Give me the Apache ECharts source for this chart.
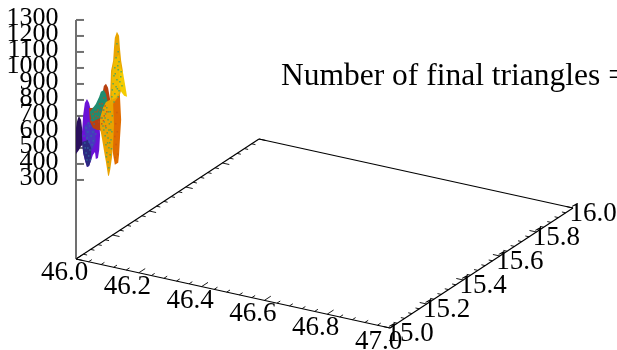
<!DOCTYPE html>
<html><head><meta charset="utf-8">
<script src="https://cdn.jsdelivr.net/npm/echarts@6/dist/echarts.min.js"></script>
<style>html,body{margin:0;padding:0;background:#fff}#c{width:617px;height:350px}</style>
</head><body><div id="c"></div>
<script>
const titleText = 'Number of final triangles =';
const lonTicks = ['46.0','46.2','46.4','46.6','46.8','47.0'];
const latTicks = ['15.0','15.2','15.4','15.6','15.8','16.0'];
const elevTicks = [300,400,500,600,700,800,900,1000,1100,1200,1300];

// patches: [longitude, elevation] outlines along the sampled transect
const navyPatch = [[46.000,625],[46.002,662],[46.005,687],[46.007,700],[46.012,675],[46.014,631],[46.017,581],[46.016,519],[46.012,512],[46.007,487],[46.000,462],[46.000,581]];
const purplePatch = [[46.017,706],[46.021,781],[46.026,806],[46.031,781],[46.036,725],[46.040,725],[46.045,750],[46.050,725],[46.055,662],[46.057,581],[46.055,487],[46.052,437],[46.047,431],[46.045,475],[46.040,456],[46.036,425],[46.031,387],[46.026,381],[46.021,425],[46.017,469],[46.014,581]];
const bluePatch = [[46.019,637],[46.033,662],[46.045,612],[46.047,537],[46.038,487],[46.026,525]];
const deepPatch = [[46.014,537],[46.028,550],[46.036,500],[46.036,425],[46.031,387],[46.026,381],[46.021,425],[46.017,469]];
const redPatch = [[46.031,750],[46.038,750],[46.047,756],[46.055,775],[46.062,831],[46.066,887],[46.071,900],[46.076,875],[46.081,800],[46.083,706],[46.081,612],[46.076,550],[46.069,537],[46.064,581],[46.057,612],[46.050,612],[46.040,625],[46.033,662]];
const greenPatch = [[46.033,725],[46.040,750],[46.047,775],[46.055,819],[46.059,850],[46.066,862],[46.071,837],[46.076,775],[46.076,687],[46.071,625],[46.064,644],[46.057,687],[46.047,675],[46.038,662]];
const orangePatch = [[46.085,800],[46.092,875],[46.097,900],[46.104,831],[46.107,675],[46.104,550],[46.102,456],[46.100,406],[46.092,394],[46.088,456],[46.083,581]];
const goldLowPatch = [[46.057,687],[46.064,750],[46.071,787],[46.081,800],[46.088,775],[46.090,644],[46.088,519],[46.085,437],[46.081,362],[46.078,325],[46.076,325],[46.071,412],[46.066,487],[46.062,550],[46.057,625]];
const goldTopPatch = [[46.097,1225],[46.102,1200],[46.104,1125],[46.107,1044],[46.111,981],[46.111,894],[46.104,831],[46.095,800],[46.088,775],[46.081,750],[46.081,831],[46.083,981],[46.088,1044],[46.090,1125],[46.092,1187]];
const midYellowPatch = [[46.090,1050],[46.102,1081],[46.109,975],[46.109,875],[46.095,812],[46.085,800],[46.085,956]];
const edgeYellowPatch = [[46.104,1000],[46.111,975],[46.116,900],[46.121,819],[46.114,825],[46.107,850],[46.102,894]];

// speckles of the mesh: [longitude, elevation]
const greenSpeckle = [[46.097,1150],[46.100,1100],[46.095,1062],[46.102,1037],[46.092,1000],[46.100,987],[46.107,975],[46.090,950],[46.097,925],[46.104,912],[46.088,900],[46.095,881],[46.109,887],[46.102,856],[46.092,837],[46.085,819],[46.100,819],[46.090,787],[46.099,1012],[46.093,962],[46.106,944],[46.086,862],[46.098,869],
[46.066,737],[46.073,750],[46.081,725],[46.062,687],[46.069,687],[46.076,675],[46.083,662],[46.064,637],[46.071,625],[46.078,612],[46.085,600],[46.069,575],[46.076,562],[46.083,550],[46.071,519],[46.078,500],[46.073,469],[46.081,456],[46.076,412],[46.078,375],[46.074,594],[46.080,531],[46.066,612],[46.086,700],[46.072,444],[46.079,650],[46.067,662],[46.082,612],[46.075,531],[46.084,494],[46.070,712],[46.077,725]];
const tealSpeckle = [[46.024,625],[46.028,600],[46.033,637],[46.026,562],[46.031,537],[46.036,575],[46.040,600],[46.021,531],[46.028,500],[46.033,487],[46.038,519],[46.024,469],[46.030,450],[46.026,425],[46.043,650],[46.036,675],[46.019,575],[46.047,587],[46.034,425],[46.022,500],[46.041,544],[46.029,656]];
const redSpeckle = [[46.057,725],[46.062,775],[46.066,812],[46.052,737],[46.047,700],[46.059,687],[46.064,737],[46.069,762],[46.042,687],[46.054,662],[46.067,700],[46.073,725],[46.050,725],[46.061,650],[46.038,662],[46.070,637],[46.056,775],[46.045,725],[46.052,694],[46.060,750],[46.040,712],[46.065,669]];
const orangeSpeckle = [[46.094,650],[46.098,600],[46.095,520],[46.099,460],[46.093,440],[46.097,720],[46.092,570]];

const mottle=(c,r)=>({symbol:'rect',symbolSize:1,color:c,dashArrayX:[[1,3],[0,2,1,1]],dashArrayY:[1,1],rotation:r});
const polyPatches = [
  {pts:navyPatch,color:'#2a0f5c',decal:mottle('#3a3a90',0.4)},
  {pts:purplePatch,color:'#6a12d6',decal:mottle('#5a2cc8',0.5)},
  {pts:bluePatch,color:'#4a36c0',decal:mottle('#2f7fa0',0.4)},
  {pts:deepPatch,color:'#2c2a80',decal:mottle('#2f6f98',0.5)},
  {pts:redPatch,color:'#b8400f',decal:mottle('#4a8050',0.4)},
  {pts:greenPatch,color:'#1f8c70',decal:mottle('#a8681c',0.5)},
  {pts:orangePatch,color:'#e06c00',decal:mottle('#d06000',0.4)},
  {pts:goldLowPatch,color:'#e9a300',decal:mottle('#3f9f68',0.5)},
  {pts:goldTopPatch,color:'#e9a500',decal:mottle('#7fa040',0.4)},
  {pts:midYellowPatch,color:'#efbc00',decal:mottle('#4fa860',0.5)},
  {pts:edgeYellowPatch,color:'#f4cc00',decal:mottle('#e8b800',0.4)}
];

// affine map from the 3D box to the hidden pixel-like axes
const origin=[76,259], lonVec=[314,69], latVec=[183,-120], elevPerPx=6.25, elevBase=-194;
function project(lon,lat,elev){
  const a=lon-46,b=lat-15;
  return [origin[0]+a*lonVec[0]+b*latVec[0], origin[1]+a*lonVec[1]+b*latVec[1]-(elev-elevBase)/elevPerPx];
}
const transect = (lon,elev)=>project(lon,15+0.59*(lon-46),elev);

const lines=[];
const floor=(lon,lat)=>project(lon,lat,elevBase);
[[46,15,47,15],[47,15,47,16],[47,16,46,16],[46,16,46,15]].forEach(e=>lines.push([floor(e[0],e[1]),floor(e[2],e[3]),'#000',1.2]));
lines.push([project(46,15,elevBase),project(46,15,1300),'#707070',2]);
elevTicks.forEach(v=>{const p=project(46,15,v);lines.push([p,[p[0]+8,p[1]],'#707070',2]);});
for(let i=0;i<=25;i++){
  const t=i*0.04,major=i%5===0;
  let p=floor(46+t,15),q=floor(46+t,15+(major?0.035:0.018));
  lines.push([p,q,'#000',0.9]);
  p=floor(46,15+t);q=floor(46+(major?0.022:0.012),15+t);
  lines.push([p,q,'#000',0.9]);
  p=floor(47,15+t);q=floor(47-(major?0.022:0.012),15+t);
  lines.push([p,q,'#000',0.9]);
}
const texts=[];
lonTicks.forEach(s=>{const p=floor(+s,15);texts.push([p[0]-11.5,p[1]+14,s,'center',27]);});
latTicks.forEach(s=>{const p=floor(47,+s);texts.push([p[0]+20,p[1]+6,s,'center',27]);});
elevTicks.forEach(v=>{const p=project(46,15,v);texts.push([58.5,p[1]-1.5,String(v),'right',26]);});

const serif='"Liberation Serif","Times New Roman",serif';
const chart=echarts.init(document.getElementById('c'),null,{renderer:'canvas'});
const speck=(d,c,s)=>({type:'scatter',data:d.map(p=>transect(p[0],p[1])),symbol:'rect',symbolSize:s,itemStyle:{color:c},silent:true,z:5});
chart.setOption({
  animation:false,backgroundColor:'#fff',
  title:{text:titleText,left:281,top:61,padding:0,textStyle:{fontFamily:serif,fontSize:31.5,fontWeight:'normal',color:'#000'}},
  grid:{left:0,right:0,top:0,bottom:0},
  xAxis:{type:'value',min:0,max:617,show:false},
  yAxis:{type:'value',min:0,max:350,inverse:true,show:false},
  series:[
    {type:'custom',coordinateSystem:'cartesian2d',z:2,silent:true,clip:false,data:lines.map((l,i)=>[i]),
     renderItem:(p,api)=>{const l=lines[p.dataIndex],a=api.coord(l[0]),b=api.coord(l[1]);
       return {type:'line',shape:{x1:a[0],y1:a[1],x2:b[0],y2:b[1]},style:{stroke:l[2],lineWidth:l[3],fill:null}};}},
    {type:'custom',coordinateSystem:'cartesian2d',z:3,silent:true,clip:false,
     data:polyPatches.map((s,i)=>({value:[i],itemStyle:{color:s.color,decal:s.decal}})),
     renderItem:(p,api)=>{const s=polyPatches[p.dataIndex];
       return {type:'polygon',shape:{points:s.pts.map(q=>api.coord(transect(q[0],q[1])))},style:api.style({fill:s.color})};}},
    speck(redSpeckle,'#c0481a',1.5),speck(tealSpeckle,'#2f6fa0',1.5),speck(greenSpeckle,'#36a06a',1.5),speck(orangeSpeckle,'#c85a10',1.5),
    {type:'custom',coordinateSystem:'cartesian2d',z:6,silent:true,clip:false,data:texts.map((l,i)=>[i]),
     renderItem:(p,api)=>{const t=texts[p.dataIndex],a=api.coord([t[0],t[1]]);
       return {type:'text',x:a[0],y:a[1],style:{text:t[2],fontFamily:serif,fontSize:t[4],fill:'#000',align:t[3],verticalAlign:'middle'}};}}
  ]
});
</script></body></html>
